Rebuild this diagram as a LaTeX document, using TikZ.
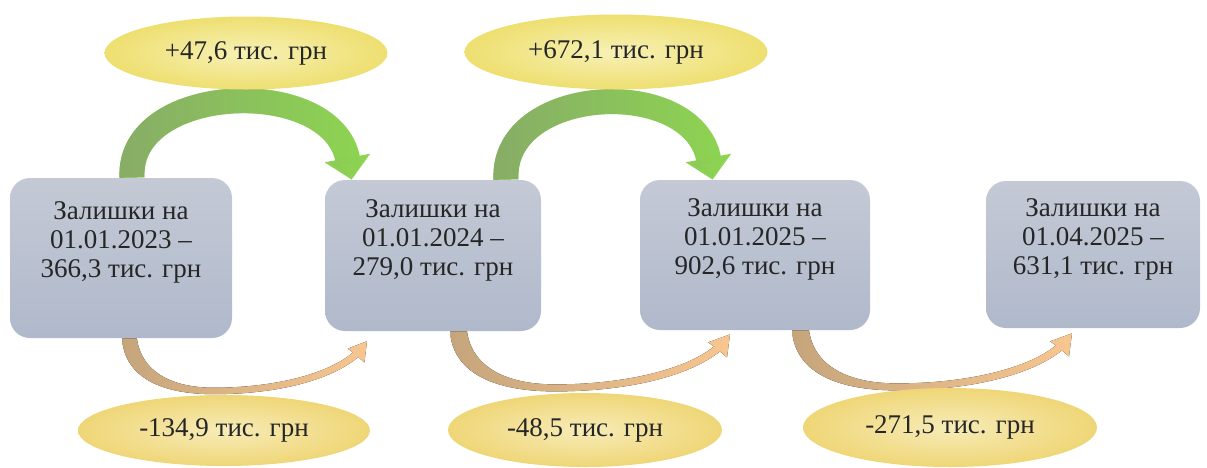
\documentclass[tikz,border=0pt]{standalone}
\usepackage{fontspec}
\setmainfont{Liberation Serif}
\usetikzlibrary{arrows.meta,shapes.geometric,fadings,calc}

\definecolor{boxtop}{HTML}{C4C9D5}
\definecolor{boxbot}{HTML}{B0B9CB}
\definecolor{plusin}{HTML}{F7F1B6}
\definecolor{plusout}{HTML}{EEDF70}
\definecolor{minusin}{HTML}{F7ECB8}
\definecolor{minusout}{HTML}{EFD677}
\definecolor{gainL}{HTML}{88AC68}
\definecolor{gainR}{HTML}{8ED552}
\definecolor{lossL}{HTML}{C6A57C}
\definecolor{lossR}{HTML}{F8C690}

\tikzfading[name=fadeout right, left color=transparent!0, right color=transparent!100]

\tikzset{
	saldobox/.style={rounded corners=10pt, top color=boxtop, bottom color=boxbot, align=center, text=black!85,
		font=\fontsize{13.5}{14.5}\selectfont, text depth=18pt, inner sep=0pt},
	plusoval/.style={ellipse, inner color=plusin, outer color=plusout, inner sep=0pt, text=black!85,
		font=\fontsize{13.5}{14.5}\selectfont},
	minusoval/.style={plusoval, inner color=minusin, outer color=minusout},
	plusarrow/.style={line width=12.5pt, -{Triangle[width=22.5pt,length=11pt]}, draw=gainR,
		postaction={draw=gainL, path fading=fadeout right}},
	minusarrow/.style={left color=lossL, right color=lossR},
}

\begin{document}
\begin{tikzpicture}[x=0.5pt,y=-0.5pt]
	\useasboundingbox (0,0) rectangle (1207,467);
	% Залишки
	\node[saldobox, minimum width=111pt, minimum height=80pt] (b1) at (121,258) {Залишки на\\01.01.2023 –\\366,3 тис. грн};
	\node[saldobox, minimum width=108pt, minimum height=75.5pt] (b2) at (433,255.5) {Залишки на\\01.01.2024 –\\279,0 тис. грн};
	\node[saldobox, minimum width=115pt, minimum height=75pt] (b3) at (755,255) {Залишки на\\01.01.2025 –\\902,6 тис. грн};
	\node[saldobox, minimum width=107pt, minimum height=73.5pt] (b4) at (1093,254.5) {Залишки на\\01.04.2025 –\\631,1 тис. грн};
	% oben: Zuwachs
	\draw[plusarrow] ($(b1.north)+(11,0)$) .. controls +(-5,-95) and +(-20,-105) .. ($(b2.north west)+(27,0)$);
	\draw[plusarrow] ($(b2.north)+(73,0)$) .. controls +(-5,-95) and +(-20,-105) .. ($(b3.north west)+(73,0)$);
	% unten: Abgang
	\begin{scope}[shift={($(b1.south)+(1,0)$)}, xscale=0.875, yscale=0.93]
		\fill[minusarrow] (0,0) .. controls (3,42) and (45,60) .. (105,60) .. controls (180,60) and (240,44) .. (270,20)
			-- (277,26) -- (280,3) -- (258,11) -- (264,15) .. controls (236,38) and (175,53) .. (105,53) .. controls (55,53) and (22,35) .. (17,0) -- cycle;
	\end{scope}
	\begin{scope}[shift={($(b2.south)+(17,0)$)}]
		\fill[minusarrow] (0,0) .. controls (3,42) and (45,60) .. (105,60) .. controls (180,60) and (240,44) .. (270,20)
			-- (277,26) -- (280,3) -- (258,11) -- (264,15) .. controls (236,38) and (175,53) .. (105,53) .. controls (55,53) and (22,35) .. (17,0) -- cycle;
	\end{scope}
	\begin{scope}[shift={($(b3.south)+(37,0)$)}]
		\fill[minusarrow] (0,0) .. controls (3,42) and (45,60) .. (105,60) .. controls (180,60) and (240,44) .. (270,20)
			-- (277,26) -- (280,3) -- (258,11) -- (264,15) .. controls (236,38) and (175,53) .. (105,53) .. controls (55,53) and (22,35) .. (17,0) -- cycle;
	\end{scope}
	% Ovale
	\node[plusoval, minimum width=141.5pt, minimum height=36.5pt] (p1) at (246,53) {+47,6 тис. грн};
	\node[plusoval, minimum width=151.5pt, minimum height=37.5pt] (p2) at (616,52) {+672,1 тис. грн};
	\node[minusoval, minimum width=146pt, minimum height=35.5pt] (m1) at (224,430.5) {-134,9 тис. грн};
	\node[minusoval, minimum width=137pt, minimum height=37pt] (m2) at (585,430) {-48,5 тис. грн};
	\node[minusoval, minimum width=147pt, minimum height=39.5pt] (m3) at (950,427.5) {-271,5 тис. грн};
\end{tikzpicture}
\end{document}
